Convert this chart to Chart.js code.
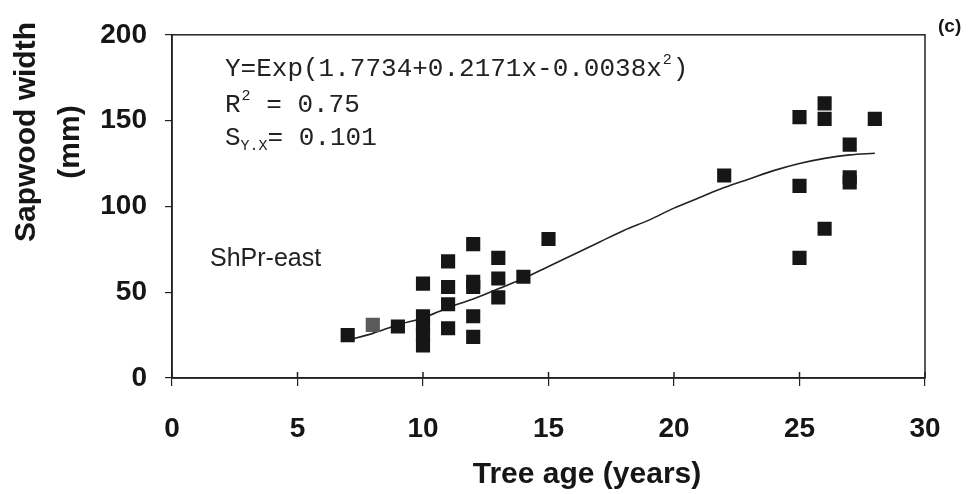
<!DOCTYPE html>
<html>
<head>
<meta charset="utf-8">
<script src="https://cdn.jsdelivr.net/npm/chart.js@4/dist/chart.umd.min.js"></script>
<style>
  body { margin: 0; background: #fff; }
  #wrap { width: 973px; height: 494px; }
</style>
</head>
<body>
<div id="wrap"><canvas id="sapChart"></canvas></div>
<script>
// Measured trees (age in years, sapwood width in mm)
const ages = [7, 9, 10, 10, 10, 10, 10, 11, 11, 11, 11, 12, 12, 12, 12, 12, 13, 13, 13, 14, 15, 22, 25, 25, 25, 26, 26, 26, 27, 27, 27, 28];
const widths = [25, 30, 55, 36, 30, 25, 19, 68, 53, 43, 29, 78, 56, 53, 36, 24, 70, 58, 47, 59, 81, 118, 152, 112, 70, 160, 151, 87, 136, 117, 114, 151];

// the one grey square
const greyAges = [8];
const greyWidths = [31];

// fitted curve
const curveAges = [7, 8, 9, 10, 11, 12, 13, 14, 15, 16, 17, 18, 19, 20, 21, 22, 23, 24, 25, 26, 27, 28];
const curveWidths = [22, 26, 31, 35, 41, 46, 52, 58, 65, 72, 79, 86, 92, 99, 105, 111, 116, 121, 125, 128, 130, 131];

const xTicks = [0, 5, 10, 15, 20, 25, 30];
const yTicks = [0, 50, 100, 150, 200];

function toPoints(xs, ys) {
    return xs.map((x, i) => ({ x: x, y: ys[i] }));
}

const ink = '#161616';

// box, inner ticks and all the free text
const extrasPlugin = {
    id: 'extras',
    afterDraw(chart) {
        const ctx = chart.ctx;
        const a = chart.chartArea;
        const xs = chart.scales.x;
        ctx.save();
        ctx.strokeStyle = '#222';
        ctx.lineWidth = 1.5;
        ctx.strokeRect(a.left, a.top, a.right - a.left, a.bottom - a.top);
        xTicks.forEach(t => {
            const px = xs.getPixelForValue(t);
            ctx.beginPath();
            ctx.moveTo(px, a.bottom - 6);
            ctx.lineTo(px, a.bottom);
            ctx.stroke();
        });

        ctx.fillStyle = ink;
        // axis titles
        ctx.font = 'bold 30px "Liberation Sans", Arial, sans-serif';
        ctx.textAlign = 'center';
        ctx.textBaseline = 'alphabetic';
        ctx.fillText('Tree age (years)', 587, 483);
        ctx.save();
        ctx.translate(35, 132);
        ctx.rotate(-Math.PI / 2);
        ctx.fillText('Sapwood width', 0, 0);
        ctx.restore();
        ctx.save();
        ctx.translate(79, 142);
        ctx.rotate(-Math.PI / 2);
        ctx.fillText('(mm)', 0, 0);
        ctx.restore();

        // panel letter
        ctx.textAlign = 'left';
        ctx.font = 'bold 19px "Liberation Sans", Arial, sans-serif';
        ctx.fillText('(c)', 938, 32);

        // site label
        ctx.font = '25px "Liberation Sans", Arial, sans-serif';
        ctx.fillStyle = '#222';
        ctx.fillText('ShPr-east', 210, 266);

        // regression text
        const mono = '"Liberation Mono", "Courier New", monospace';
        const big = '26px ' + mono;
        const small = '15px ' + mono;
        let x = 225;
        ctx.font = big;
        ctx.fillText('Y=Exp(1.7734+0.2171x-0.0038x', x, 76);
        x += ctx.measureText('Y=Exp(1.7734+0.2171x-0.0038x').width;
        ctx.font = small;
        ctx.fillText('2', x + 1, 64);
        x += ctx.measureText('2').width + 2;
        ctx.font = big;
        ctx.fillText(')', x, 76);

        x = 225;
        ctx.fillText('R', x, 112);
        x += ctx.measureText('R').width;
        ctx.font = small;
        ctx.fillText('2', x + 1, 100);
        x += ctx.measureText('2').width + 1;
        ctx.font = big;
        ctx.fillText(' = 0.75', x, 112);

        x = 225;
        ctx.fillText('S', x, 145);
        x += ctx.measureText('S').width;
        ctx.font = small;
        ctx.fillText('Y.X', x, 150);
        x += ctx.measureText('Y.X').width;
        ctx.font = big;
        ctx.fillText('= 0.101', x, 145);
        ctx.restore();
    }
};

const ctx = document.getElementById('sapChart').getContext('2d');
const sapChart = new Chart(ctx, {
    type: 'scatter',
    data: {
        datasets: [
            {
                label: 'Sapwood width',
                data: toPoints(ages, widths),
                pointStyle: 'rect',
                pointRadius: 10,
                pointBackgroundColor: ink,
                pointBorderColor: ink,
                pointBorderWidth: 0
            },
            {
                label: 'Sapwood width (grey)',
                data: toPoints(greyAges, greyWidths),
                pointStyle: 'rect',
                pointRadius: 10,
                pointBackgroundColor: '#5a5a5a',
                pointBorderColor: '#5a5a5a',
                pointBorderWidth: 0
            },
            {
                type: 'line',
                label: 'Fit',
                data: toPoints(curveAges, curveWidths),
                borderColor: '#222',
                borderWidth: 1.6,
                pointRadius: 0,
                fill: false,
                cubicInterpolationMode: 'monotone'
            }
        ]
    },
    options: {
        responsive: true,
        maintainAspectRatio: false,
        animation: false,
        layout: { padding: { top: 26, right: 48, left: 0, bottom: 0 } },
        plugins: {
            legend: { display: false },
            tooltip: { enabled: false }
        },
        scales: {
            x: {
                type: 'linear',
                min: 0,
                max: 30,
                afterBuildTicks: axis => { axis.ticks = xTicks.map(v => ({ value: v })); },
                afterFit: axis => { axis.height = 116; },
                grid: { drawOnChartArea: false, tickLength: 8, color: '#222', lineWidth: 1.2 },
                border: { display: true, color: '#222', width: 1.5 },
                ticks: {
                    color: ink,
                    padding: 26,
                    font: { family: '"Liberation Sans", Arial, sans-serif', size: 28, weight: 'bold' }
                }
            },
            y: {
                min: 0,
                max: 200,
                afterBuildTicks: axis => { axis.ticks = yTicks.map(v => ({ value: v })); },
                afterFit: axis => { axis.width = 172; },
                grid: { drawOnChartArea: false, tickLength: 7, color: '#222', lineWidth: 1.2 },
                border: { display: true, color: '#222', width: 1.5 },
                ticks: {
                    color: ink,
                    padding: 18,
                    font: { family: '"Liberation Sans", Arial, sans-serif', size: 28, weight: 'bold' }
                }
            }
        }
    },
    plugins: [extrasPlugin]
});
</script>
</body>
</html>
